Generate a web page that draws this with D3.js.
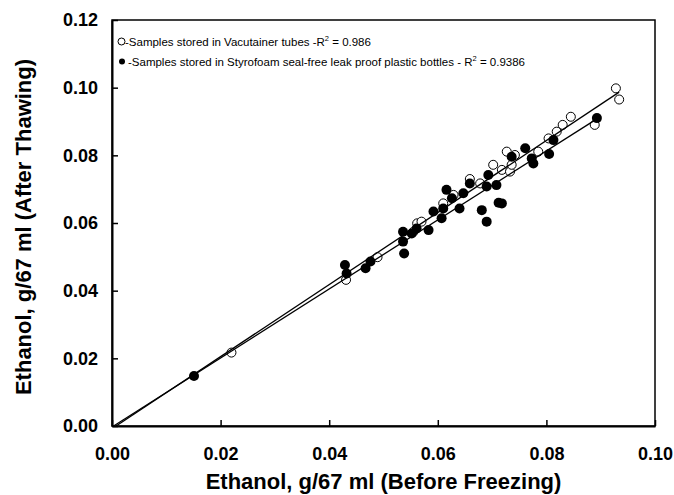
<!DOCTYPE html>
<html>
<head>
<meta charset="utf-8">
<script src="https://cdn.jsdelivr.net/npm/d3@7"></script>
<style>
  body { margin: 0; background: #fff; }
  text { font-family: Arial, "Liberation Sans", sans-serif; }
</style>
</head>
<body>
<svg id="chart"></svg>
<script>
const width = 674;
const height = 495;

// Vacutainer tubes (open circles)
const vacX = [0.0220, 0.0431, 0.0489, 0.0555, 0.0562, 0.0570, 0.0610, 0.0629, 0.0659, 0.0678, 0.0702, 0.0718,
    0.0733, 0.0727, 0.0742, 0.0736, 0.0785, 0.0804, 0.0819, 0.0830, 0.0845, 0.0889, 0.0928, 0.0934];
const vacY = [0.0217, 0.0432, 0.0499, 0.0574, 0.0599, 0.0604, 0.0658, 0.0683, 0.0730, 0.0717, 0.0772, 0.0757,
    0.0752, 0.0811, 0.0801, 0.0772, 0.0811, 0.0850, 0.0870, 0.0890, 0.0914, 0.0890, 0.0998, 0.0965];

// Styrofoam plastic bottles (filled circles)
const styX = [0.0151, 0.0429, 0.0432, 0.0467, 0.0476, 0.0536, 0.0536, 0.0538, 0.0552, 0.0561, 0.0583, 0.0592,
    0.0607, 0.0610, 0.0616, 0.0626, 0.0640, 0.0647, 0.0659, 0.0681, 0.0690, 0.0690, 0.0693, 0.0708, 0.0712,
    0.0718, 0.0736, 0.0761, 0.0773, 0.0776, 0.0805, 0.0813, 0.0893];
const styY = [0.0148, 0.0476, 0.0451, 0.0466, 0.0486, 0.0574, 0.0545, 0.0510, 0.0569, 0.0584, 0.0579, 0.0634,
    0.0614, 0.0643, 0.0698, 0.0673, 0.0643, 0.0688, 0.0717, 0.0638, 0.0604, 0.0708, 0.0742, 0.0712, 0.0660,
    0.0658, 0.0796, 0.0821, 0.0791, 0.0776, 0.0804, 0.0845, 0.0910];

// regression lines [slope, intercept]
const vacFit = [1.065, -0.0008];
const styFit = [1.02, -0.0003];

const xTicks = [0, 0.02, 0.04, 0.06, 0.08, 0.10];
const yTicks = [0, 0.02, 0.04, 0.06, 0.08, 0.10, 0.12];

const legendLabels = [
    { pre: "-Samples stored in Vacutainer tubes -R", post: " = 0.986" },
    { pre: "-Samples stored in Styrofoam seal-free leak proof plastic bottles - R", post: " = 0.9386" }
];

const svg = d3.select("#chart")
    .attr("width", width)
    .attr("height", height);

const x = d3.scaleLinear().domain([0, 0.1]).range([112, 655]);
const y = d3.scaleLinear().domain([0, 0.12]).range([426, 20]);

// frame
svg.append("rect")
    .attr("x", x(0))
    .attr("y", y(0.12))
    .attr("width", x(0.1) - x(0))
    .attr("height", y(0) - y(0.12))
    .attr("fill", "none")
    .attr("stroke", "#000")
    .attr("stroke-width", 1.5);

const xAxis = svg.append("g")
    .attr("transform", `translate(0,${y(0)})`)
    .call(d3.axisBottom(x).tickValues(xTicks).tickFormat(d3.format(".2f"))
        .tickSizeInner(-6).tickSizeOuter(0).tickPadding(21));

const yAxis = svg.append("g")
    .attr("transform", `translate(${x(0)},0)`)
    .call(d3.axisLeft(y).tickValues(yTicks).tickFormat(d3.format(".2f"))
        .tickSizeInner(-6).tickSizeOuter(0).tickPadding(14));

[xAxis, yAxis].forEach(g => {
    g.select(".domain").attr("stroke-width", 2);
    g.selectAll(".tick line").attr("stroke-width", 1.5);
    g.selectAll(".tick text")
        .attr("font-family", "Arial, 'Liberation Sans', sans-serif")
        .attr("font-size", 18)
        .attr("font-weight", "bold")
        .attr("fill", "#000");
});

// points
svg.append("g").selectAll("circle")
    .data(vacX.map((d, i) => [d, vacY[i]]))
    .enter()
    .append("circle")
    .attr("cx", d => x(d[0]))
    .attr("cy", d => y(d[1]))
    .attr("r", 4.5)
    .attr("fill", "#fff")
    .attr("stroke", "#000")
    .attr("stroke-width", 1);

svg.append("g").selectAll("circle")
    .data(styX.map((d, i) => [d, styY[i]]))
    .enter()
    .append("circle")
    .attr("cx", d => x(d[0]))
    .attr("cy", d => y(d[1]))
    .attr("r", 5)
    .attr("fill", "#000");

// fit lines, from where they cross y = 0 to the last point
const fits = [
    { fit: vacFit, xmax: d3.max(vacX) },
    { fit: styFit, xmax: d3.max(styX) }
];
svg.append("g").selectAll("line")
    .data(fits)
    .enter()
    .append("line")
    .attr("x1", d => x(-d.fit[1] / d.fit[0]))
    .attr("y1", y(0))
    .attr("x2", d => x(d.xmax))
    .attr("y2", d => y(d.fit[0] * d.xmax + d.fit[1]))
    .attr("stroke", "#000")
    .attr("stroke-width", 1.3);

// legend
const legend = svg.append("g");
legend.append("circle")
    .attr("cx", 121.5).attr("cy", 41.5).attr("r", 3.5)
    .attr("fill", "#fff").attr("stroke", "#000").attr("stroke-width", 1);
legend.append("circle")
    .attr("cx", 122).attr("cy", 61.5).attr("r", 3)
    .attr("fill", "#000");

legend.selectAll("text")
    .data(legendLabels)
    .enter()
    .append("text")
    .attr("x", (d, i) => i === 0 ? 125 : 128)
    .attr("y", (d, i) => 45.5 + i * 20)
    .attr("font-size", 11.5)
    .attr("fill", "#000")
    .each(function(d) {
        const t = d3.select(this);
        t.append("tspan").text(d.pre);
        t.append("tspan").attr("dy", -4.5).attr("font-size", 7.5).text("2");
        t.append("tspan").attr("dy", 4.5).text(d.post);
    });

// axis titles
svg.append("text")
    .attr("x", (x(0) + x(0.1)) / 2)
    .attr("y", 489)
    .attr("text-anchor", "middle")
    .attr("font-size", 22)
    .attr("font-weight", "bold")
    .text("Ethanol, g/67 ml (Before Freezing)");

svg.append("text")
    .attr("transform", `translate(31,${(y(0) + y(0.12)) / 2 + 4}) rotate(-90)`)
    .attr("text-anchor", "middle")
    .attr("font-size", 22)
    .attr("font-weight", "bold")
    .text("Ethanol, g/67 ml (After Thawing)");
</script>
</body>
</html>
